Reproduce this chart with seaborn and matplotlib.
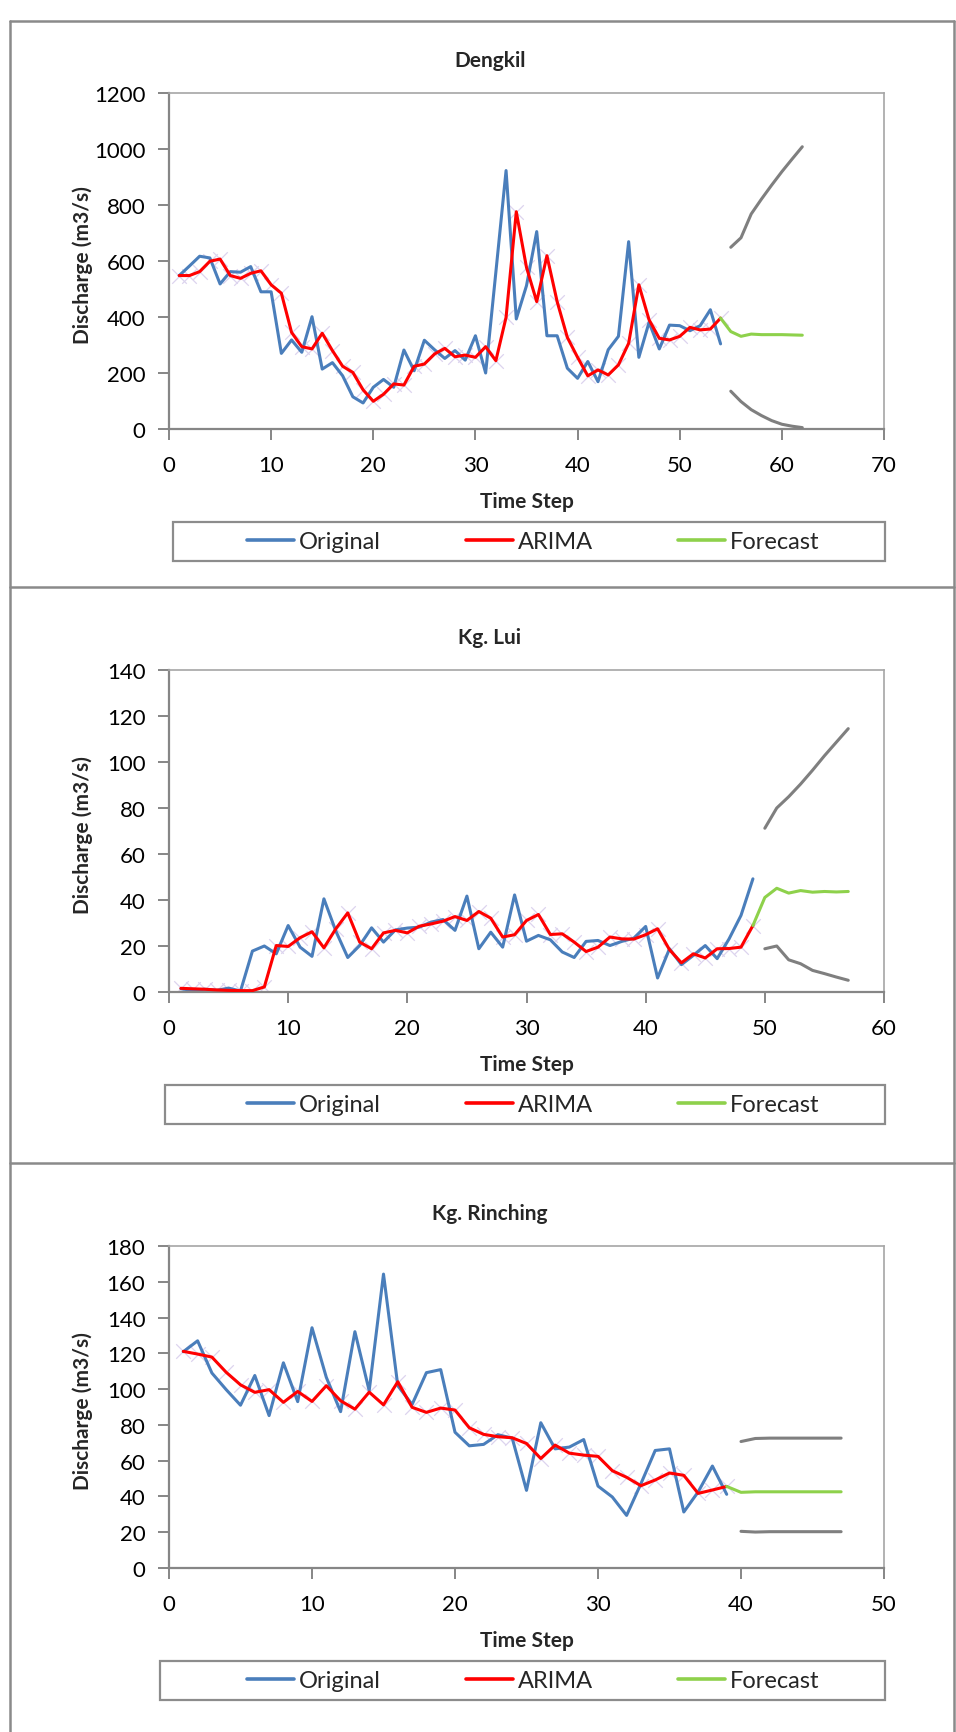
import matplotlib
matplotlib.use("Agg")
import matplotlib.pyplot as plt
import seaborn as sns
import numpy as np
from matplotlib.lines import Line2D
from matplotlib.patches import Rectangle

# ---------------- data ----------------
titles = ["Dengkil", "Kg. Lui", "Kg. Rinching"]
legend_labels = ["Original", "ARIMA", "Forecast"]

orig_dengkil = [548, 582, 617, 611, 518, 562, 560, 580, 490, 490,
                270, 318, 274, 401, 214, 237, 190, 115, 93, 149,
                177, 149, 282, 208, 317, 283, 252, 280, 246, 333,
                200, 560, 923, 393, 512, 705, 333, 333, 217, 181,
                241, 169, 283, 331, 669, 256, 381, 286, 371, 369,
                351, 369, 426, 304]
arima_dengkil = [548, 548, 562, 599, 607, 548, 538, 556, 565, 515,
                 485, 345, 294, 286, 342, 280, 224, 202, 140, 99,
                 124, 161, 157, 224, 232, 268, 288, 258, 264, 256,
                 294, 244, 399, 776, 577, 455, 619, 455, 327, 256,
                 190, 211, 193, 229, 306, 515, 390, 324, 318, 331,
                 363, 354, 357, 396]
forecast_dengkil = [396, 348, 331, 339, 337, 337, 337, 336, 335]
upper_dengkil = [649, 683, 768, 821, 871, 919, 964, 1008]
lower_dengkil = [135, 98, 69, 48, 30, 17, 10, 5]

orig_lui = [1.4, 0.7, 1.2, 0.7, 1.7, 0.4, 17.8, 20, 16.6, 28.9,
            19.5, 15.5, 40.5, 26.5, 15, 20.2, 27.9, 21.7, 27, 27.8,
            28.2, 30.4, 31.5, 26.8, 41.7, 18.8, 26, 19.5, 42.2, 22.1,
            24.6, 22.7, 17.4, 15, 22, 22.4, 20.2, 22, 23.4, 28.5,
            6.1, 18.8, 11.9, 15.9, 20.2, 14.5, 23.1, 33.3, 49.2]
arima_lui = [1.6, 1.4, 1.2, 0.9, 0.7, 0.6, 0.6, 2.2, 20.2, 19.8,
             23.6, 26.2, 19.2, 27.5, 34.4, 21.7, 18.8, 25.7, 26.8, 25.7,
             28.6, 29.6, 30.8, 32.8, 31.1, 35, 32.1, 23.9, 24.9, 31.1,
             33.7, 25, 25.3, 21.7, 17.6, 19.5, 23.9, 23.1, 23, 24.9,
             27.5, 18.4, 12.7, 16.6, 14.8, 18.8, 18.9, 19.5, 28.9]
forecast_lui = [28.9, 41.1, 45.1, 43, 44.1, 43.4, 43.7, 43.5, 43.7]
upper_lui = [71.2, 80, 84.9, 90.4, 96.4, 102.7, 108.6, 114.5]
lower_lui = [18.8, 20, 14, 12.3, 9.4, 8, 6.5, 5.1]

orig_rin = [120.9, 127, 109, 99.7, 91, 107.6, 85.2, 114.7, 93, 134.3,
            106.6, 87.4, 132.1, 99.1, 164.3, 101.9, 91.4, 109.2, 110.9, 75.9,
            68.3, 69.1, 74.5, 72.6, 43.4, 81.2, 66.6, 67.6, 71.8, 45.8,
            39.7, 29.4, 47.1, 65.7, 66.6, 31.3, 42.5, 57, 41.2]
arima_rin = [121.1, 119.6, 117.9, 109.4, 102.4, 98.2, 99.7, 92.6, 98.7, 93.1,
             101.9, 93.5, 88.8, 98.3, 91.2, 104.1, 89.8, 87, 89.4, 88.3,
             78.4, 74.7, 73.4, 72.8, 69.6, 61.2, 68.7, 64.2, 63.1, 62.4,
             54.4, 50.7, 46, 49.2, 53.1, 51.8, 41.7, 43.6, 45.6]
forecast_rin = [45.6, 42.3, 42.6, 42.6, 42.6, 42.6, 42.6, 42.6, 42.6]
upper_rin = [70.7, 72.4, 72.6, 72.6, 72.6, 72.6, 72.6, 72.6]
lower_rin = [20.5, 20.1, 20.3, 20.3, 20.3, 20.3, 20.3, 20.3]

xlims = [70, 60, 50]
ylims = [1200, 140, 180]
ysteps = [200, 20, 20]

panels = [
    (orig_dengkil, arima_dengkil, forecast_dengkil, upper_dengkil, lower_dengkil),
    (orig_lui, arima_lui, forecast_lui, upper_lui, lower_lui),
    (orig_rin, arima_rin, forecast_rin, upper_rin, lower_rin),
]

# ---------------- style ----------------
sns.set_style("white")
plt.rcParams["font.family"] = ["Lato", "DejaVu Sans"]

W, H = 956, 1733
fig = plt.figure(figsize=(W / 100, H / 100), dpi=100)

def fx(px):
    return px / W

def fy(py):
    return 1 - py / H

C_BLUE = "#4a7ebb"
C_RED = "#ff0000"
C_GREEN = "#8ed14b"
C_GRAY = "#7f7f7f"
C_MARK = "#dcd4ee"
C_AX = "#868686"

ax_left, ax_right = 169, 884
tops = [94, 671, 1247]
bottoms = [430, 993, 1569]
legend_left = [173, 165, 160]

for i, (orig, arima, fc, up, lo) in enumerate(panels):
    top, bot = tops[i], bottoms[i]
    ax = fig.add_axes([fx(ax_left), fy(bot), fx(ax_right - ax_left), (bot - top) / H])
    n = len(orig)
    t = np.arange(1, n + 1)
    tf = np.arange(n, n + len(fc))
    tb = np.arange(n + 1, n + 1 + len(up))

    sns.scatterplot(x=t, y=arima, marker="x", s=110, color=C_MARK,
                    linewidth=0.9, ax=ax, zorder=1, legend=False)
    sns.lineplot(x=t, y=orig, color=C_BLUE, lw=2.2, ax=ax, zorder=2)
    sns.lineplot(x=t, y=arima, color=C_RED, lw=2.2, ax=ax, zorder=3)
    sns.lineplot(x=tf, y=fc, color=C_GREEN, lw=2.2, ax=ax, zorder=3)
    sns.lineplot(x=tb, y=up, color=C_GRAY, lw=2.2, ax=ax, zorder=3)
    sns.lineplot(x=tb, y=lo, color=C_GRAY, lw=2.2, ax=ax, zorder=3)

    ax.set_xlim(0, xlims[i])
    ax.set_ylim(0, ylims[i])
    ax.set_xticks(np.arange(0, xlims[i] + 1, 10))
    ax.set_yticks(np.arange(0, ylims[i] + 1, ysteps[i]))
    ax.set_xlabel("")
    ax.set_ylabel("")
    for s in ["left", "bottom"]:
        ax.spines[s].set_color(C_AX)
        ax.spines[s].set_linewidth(1.6)
    for s in ["top", "right"]:
        ax.spines[s].set_color("#a6a6a6")
        ax.spines[s].set_linewidth(1.2)
    ax.tick_params(axis="both", direction="out", length=8, width=1.4,
                   color=C_AX, labelsize=16, labelcolor="black")
    ax.tick_params(axis="x", pad=11)
    ax.tick_params(axis="y", pad=9)
    ax.tick_params(bottom=True, left=True)

    # texts
    fig.text(fx(490), fy(top - 33), titles[i], ha="center", va="center",
             fontsize=15, fontweight="bold")
    fig.text(fx(ax_left + (ax_right - ax_left) / 2), fy(bot + 72), "Time Step",
             ha="center", va="center", fontsize=15, fontweight="bold")
    fig.text(fx(83), fy((top + bot) / 2 + 3), "Discharge (m3/s)", rotation=90,
             ha="center", va="center", fontsize=15, fontweight="bold")

    # legend
    handles = [Line2D([0], [0], color=c, lw=2.6) for c in (C_BLUE, C_RED, C_GREEN)]
    box_top, box_bot = bot + 93, bot + 132
    fig.patches.append(Rectangle((fx(legend_left[i]), fy(box_bot)),
                                 fx(885 - legend_left[i]), (box_bot - box_top) / H,
                                 transform=fig.transFigure, fill=False,
                                 edgecolor="#8c8c8c", lw=1.6))
    fig.legend(handles, legend_labels, loc="center",
               bbox_to_anchor=(fx(533), fy((box_top + box_bot) / 2)),
               ncol=3, frameon=False, fontsize=17, handlelength=2.0,
               handletextpad=0.2, columnspacing=3.6, borderpad=0)

# frame and separators
line_kw = dict(color="#8a8a8a", lw=1.8, transform=fig.transFigure)
fig.add_artist(Line2D([fx(10), fx(10)], [fy(22), 0], **line_kw))
fig.add_artist(Line2D([fx(10), fx(954)], [fy(22), fy(22)], **line_kw))
fig.add_artist(Line2D([fx(954), fx(954)], [fy(22), 0], **line_kw))
for yy in (588, 1164):
    fig.add_artist(Line2D([fx(10), fx(954)], [fy(yy), fy(yy)], **line_kw))

fig.savefig("out.png", dpi=100, facecolor="white")
